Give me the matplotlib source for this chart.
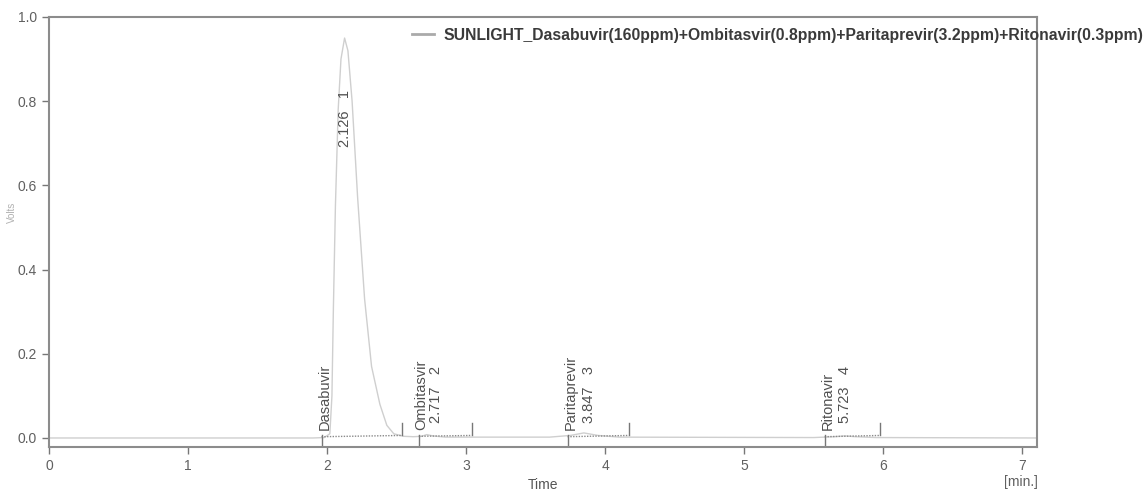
"""Chromatogram of the four-component standard with integration marks."""

import matplotlib
matplotlib.use("Agg")
import matplotlib.pyplot as plt

# chromatogram trace (time in min, detector signal)
time_min = [0.0, 1.90, 1.98, 2.02, 2.035, 2.045, 2.06, 2.08, 2.10, 2.126,
            2.15, 2.18, 2.22, 2.27, 2.32, 2.38, 2.43, 2.48, 2.55, 2.62,
            2.68, 2.717, 2.76, 2.85, 3.60, 3.75, 3.847, 3.95, 4.10, 5.50,
            5.65, 5.723, 5.80, 5.95, 7.10]
signal = [0.0, 0.0, 0.001, 0.01, 0.10, 0.30, 0.55, 0.78, 0.90, 0.95,
          0.92, 0.80, 0.57, 0.33, 0.17, 0.08, 0.03, 0.01, 0.004, 0.003,
          0.004, 0.008, 0.005, 0.002, 0.002, 0.006, 0.012, 0.006, 0.002, 0.001,
          0.003, 0.005, 0.003, 0.001, 0.0]

# integrated peaks
peak_names = ["Dasabuvir", "Ombitasvir", "Paritaprevir", "Ritonavir"]
peak_rt = [2.126, 2.717, 3.847, 5.723]
peak_start = [1.96, 2.66, 3.73, 5.58]
peak_end = [2.54, 3.04, 4.17, 5.98]
base_start = [0.003, 0.004, 0.003, 0.003]
base_end = [0.006, 0.006, 0.006, 0.006]

legend_label = ("SUNLIGHT_Dasabuvir(160ppm)+Ombitasvir(0.8ppm)"
                "+Paritaprevir(3.2ppm)+Ritonavir(0.3ppm)")

plt.rcParams["font.family"] = ["Liberation Sans", "DejaVu Sans"]

fig = plt.figure(figsize=(11.46, 4.95), dpi=100)
ax = fig.add_axes([0.0428, 0.097, 0.8622, 0.8687])

ax.plot(time_min, signal, color="#cfcfcf", linewidth=1.0, label=legend_label)

txt = "#505050"
for i, name in enumerate(peak_names):
    # baseline drawn under the peak and the start / end markers
    ax.plot([peak_start[i], peak_end[i]], [base_start[i], base_end[i]],
            linestyle=(0, (1, 1)), color="#8a8a8a", linewidth=1.0)
    ax.plot([peak_start[i], peak_start[i]], [-0.021, base_start[i] + 0.004],
            color="#777777", linewidth=1.0)
    ax.plot([peak_end[i], peak_end[i]], [base_end[i], base_end[i] + 0.03],
            color="#777777", linewidth=1.0)

    ax.annotate(name, (peak_start[i], 0.02), xytext=(2, 0),
                textcoords="offset points", rotation=90, ha="center",
                va="bottom", fontsize=10.5, color=txt)

rt_label_y = [0.69, 0.035, 0.035, 0.035]
rt_label_dx = [0, 7, 4, 0]
for i, rt in enumerate(peak_rt):
    ax.annotate(f"{rt:.3f}   {i + 1}", (rt, rt_label_y[i]),
                xytext=(rt_label_dx[i], 0), textcoords="offset points",
                rotation=90, ha="center", va="bottom", fontsize=10.5, color=txt)

ax.set_xlim(0, 7.108)
ax.set_ylim(-0.0214, 1.0)
ax.set_xticks(range(8))
ax.set_yticks([0.0, 0.2, 0.4, 0.6, 0.8, 1.0])
ax.set_yticklabels(["0.0", "0.2", "0.4", "0.6", "0.8", "1.0"])

for side in ["left", "right", "top", "bottom"]:
    ax.spines[side].set_color("#8c8c8c")
    ax.spines[side].set_linewidth(1.5)
ax.tick_params(axis="both", colors="#777777", labelcolor="#606060",
               labelsize=10, length=5, width=1.0)

ax.set_xlabel("Time", fontsize=10, color="#555555", labelpad=4)
fig.text(12 / 1146, 1 - 212 / 495, "Volts", fontsize=7, color="#b0b0b0",
         rotation=90, ha="center", va="center")
fig.text(1021 / 1146, 1 - 482 / 495, "[min.]", fontsize=10,
         color="#606060", ha="center", va="center")

leg = ax.legend(loc="upper left", bbox_to_anchor=(0.367, 0.975),
                frameon=False, borderaxespad=0, borderpad=0,
                handlelength=1.4, handletextpad=0.6,
                prop={"weight": "bold", "size": 11.3})
for t in leg.get_texts():
    t.set_color("#3a3a3a")
leg.get_lines()[0].set_color("#aaaaaa")
leg.get_lines()[0].set_linewidth(2.0)

fig.savefig("out.png", dpi=100)
